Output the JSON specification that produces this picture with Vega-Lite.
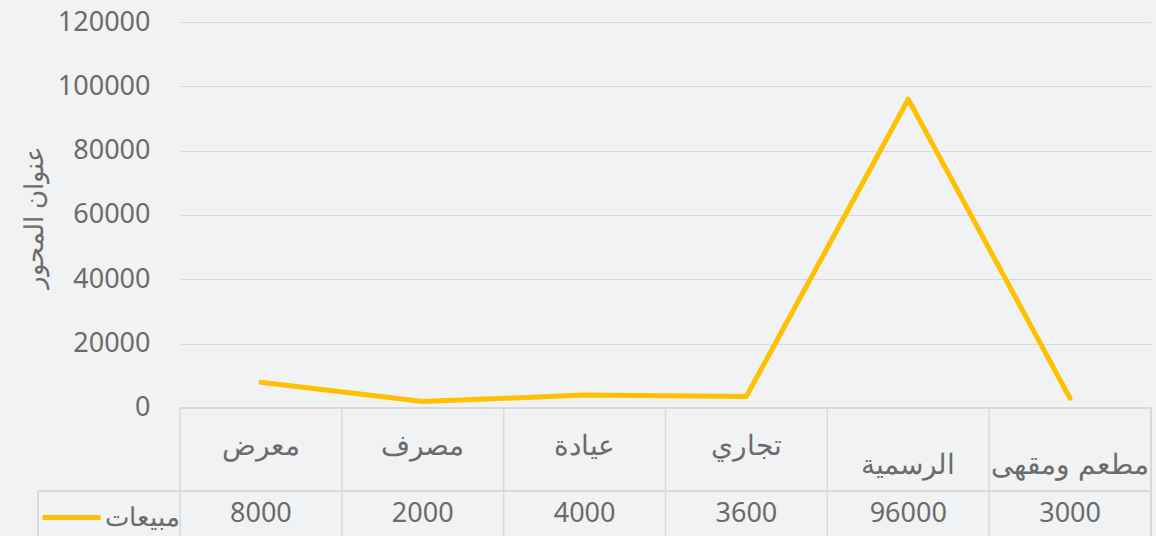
{
  "$schema": "https://vega.github.io/schema/vega-lite/v6.json",
  "width": 971,
  "height": 514,
  "autosize": {"type": "none"},
  "padding": {"left": 180, "top": 22, "right": 5, "bottom": 0},
  "background": "#f1f2f4",
  "config": {"view": {"stroke": null}, "font": "Noto Sans"},
  "data": {"values": [
    {"cat": "معرض", "i": 0, "v": 8000, "series": "مبيعات"},
    {"cat": "مصرف", "i": 1, "v": 2000, "series": "مبيعات"},
    {"cat": "عيادة", "i": 2, "v": 4000, "series": "مبيعات"},
    {"cat": "تجاري", "i": 3, "v": 3600, "series": "مبيعات"},
    {"cat": "الرسمية", "i": 4, "v": 96000, "series": "مبيعات"},
    {"cat": "مطعم ومقهى", "i": 5, "v": 3000, "series": "مبيعات"}
  ]},
  "encoding": {
    "x": {"field": "i", "type": "quantitative", "scale": {"domain": [-0.5, 5.5], "nice": false, "zero": false}, "axis": null}
  },
  "layer": [
    {
      "mark": {"type": "rule", "color": "#d9d9d9", "strokeWidth": 1.5, "xOffset": -80.9},
      "encoding": {
        "y": {"datum": 0, "type": "quantitative", "scale": {"domain": [-39800, 120000], "nice": false, "zero": false},
          "axis": {"values": [0, 20000, 40000, 60000, 80000, 100000, 120000], "format": "d", "grid": true, "gridColor": "#d9d9d9", "gridWidth": 1.2,
            "domain": false, "ticks": false, "labelPadding": 30, "labelFontSize": 27, "labelColor": "#6b6b6b",
            "title": "عنوان المحور", "titleFontSize": 26, "titleFontWeight": "normal", "titleColor": "#6b6b6b",
            "titlePadding": 10, "titleY": 195}},
        "y2": {"datum": -45000}
      }
    },
    {
      "mark": {"type": "rule", "color": "#d9d9d9", "strokeWidth": 1.5},
      "encoding": {"x": {"datum": 5.5}, "y": {"datum": 0}, "y2": {"datum": -45000}}
    },
    {
      "mark": {"type": "rule", "color": "#d9d9d9", "strokeWidth": 2},
      "encoding": {"x": {"datum": -0.5}, "x2": {"datum": 5.5}, "y": {"datum": 0}}
    },
    {
      "mark": {"type": "rule", "color": "#d9d9d9", "strokeWidth": 1.5},
      "encoding": {"x": {"datum": -1.377}, "x2": {"datum": 5.5}, "y": {"datum": -25800}}
    },
    {
      "mark": {"type": "rule", "color": "#d9d9d9", "strokeWidth": 1.5},
      "encoding": {"x": {"datum": -1.377}, "y": {"datum": -25800}, "y2": {"datum": -45000}}
    },
    {
      "transform": [{"filter": "datum.i < 4"}],
      "mark": {"type": "text", "fontSize": 28, "color": "#6b6b6b", "baseline": "middle"},
      "encoding": {"text": {"field": "cat"}, "y": {"datum": -12125}}
    },
    {
      "transform": [{"filter": "datum.i >= 4"}],
      "mark": {"type": "text", "fontSize": 28, "color": "#6b6b6b", "baseline": "middle"},
      "encoding": {"text": {"field": "cat"}, "y": {"datum": -18030}}
    },
    {
      "mark": {"type": "text", "fontSize": 27, "color": "#6b6b6b", "baseline": "middle"},
      "encoding": {"text": {"field": "v", "format": "d"}, "y": {"datum": -32955}}
    },
    {
      "mark": {"type": "line", "strokeWidth": 5, "strokeCap": "round", "strokeJoin": "round"},
      "encoding": {
        "y": {"field": "v", "type": "quantitative"},
        "color": {"field": "series", "type": "nominal", "scale": {"range": ["#ffc000"]},
          "legend": {"title": null, "orient": "none", "legendX": -140, "legendY": 464, "symbolType": "stroke",
            "symbolSize": 3364, "symbolStrokeWidth": 5, "labelFontSize": 26, "labelColor": "#6b6b6b", "labelOffset": 2, "padding": 0}}
      }
    }
  ]
}
